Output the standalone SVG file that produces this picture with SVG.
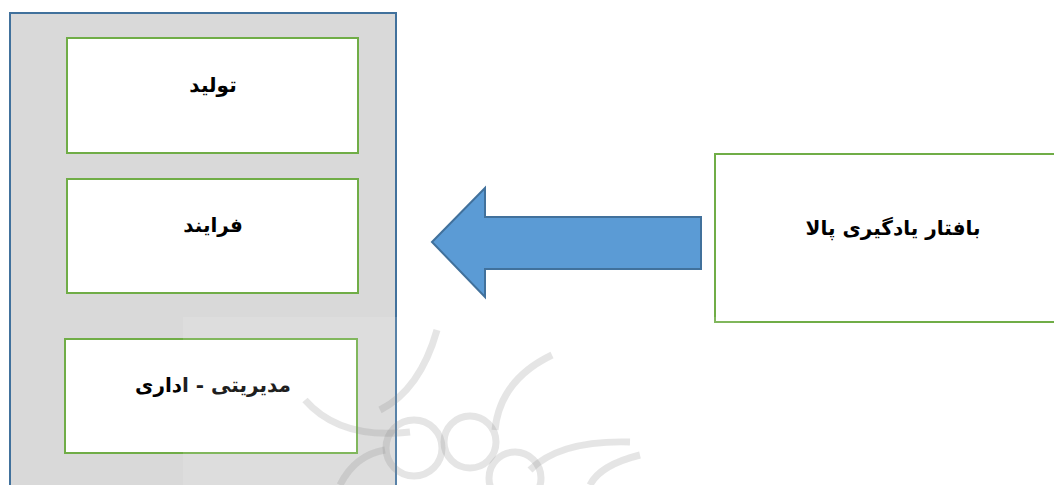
<svg xmlns="http://www.w3.org/2000/svg" width="1054" height="485" viewBox="0 0 1054 485">
  <style>
    .box{fill:#ffffff;stroke:#70AD47;stroke-width:2}
    .lbl{font-family:"DejaVu Sans","Noto Sans",sans-serif;font-weight:bold;font-size:20px;fill:#000;text-anchor:middle}
    .wm{fill:none;stroke:#8a8a8a;stroke-width:7;opacity:0.22}
  </style>
  <rect width="1054" height="485" fill="#ffffff"/>
  <g id="container">
    <rect x="10" y="13" width="386" height="490" fill="#D9D9D9" stroke="#41719C" stroke-width="2"/>
  </g>
  <g id="node-tolid">
    <rect class="box" x="67" y="38" width="291" height="115"/>
    <text class="lbl" x="213" y="92" direction="rtl">تولید</text>
  </g>
  <g id="node-farayand">
    <rect class="box" x="67" y="179" width="291" height="114"/>
    <text class="lbl" x="213" y="232" direction="rtl">فرایند</text>
  </g>
  <g id="node-modiriyati">
    <rect class="box" x="65" y="339" width="292" height="114"/>
    <text class="lbl" x="213" y="392" direction="rtl">مدیریتی - اداری</text>
  </g>
  <g id="node-bafatar">
    <rect class="box" x="715" y="154" width="345" height="168"/>
    <text class="lbl" x="893" y="235" direction="rtl">بافتار یادگیری پالا</text>
  </g>
  <g id="connectors">
    <path d="M432,242 L485,188 L485,217 L701,217 L701,269 L485,269 L485,297 Z" fill="#5B9BD5" stroke="#41719C" stroke-width="2" stroke-linejoin="miter"/>
  </g>
  <g id="watermark">
    <rect x="183" y="317" width="557" height="168" fill="#ffffff" opacity="0.12"/>
    <path class="wm" d="M305,400 Q340,440 410,432"/>
    <path class="wm" d="M437,330 Q420,390 380,410"/>
    <path class="wm" d="M552,355 Q500,380 495,430"/>
    <path class="wm" d="M630,442 Q560,440 530,470"/>
    <circle class="wm" cx="414" cy="448" r="28"/>
    <circle class="wm" cx="470" cy="442" r="26"/>
    <circle class="wm" cx="515" cy="478" r="26"/>
    <path class="wm" d="M340,485 Q355,455 385,450"/>
    <path class="wm" d="M590,485 Q600,465 640,455"/>
  </g>
</svg>
